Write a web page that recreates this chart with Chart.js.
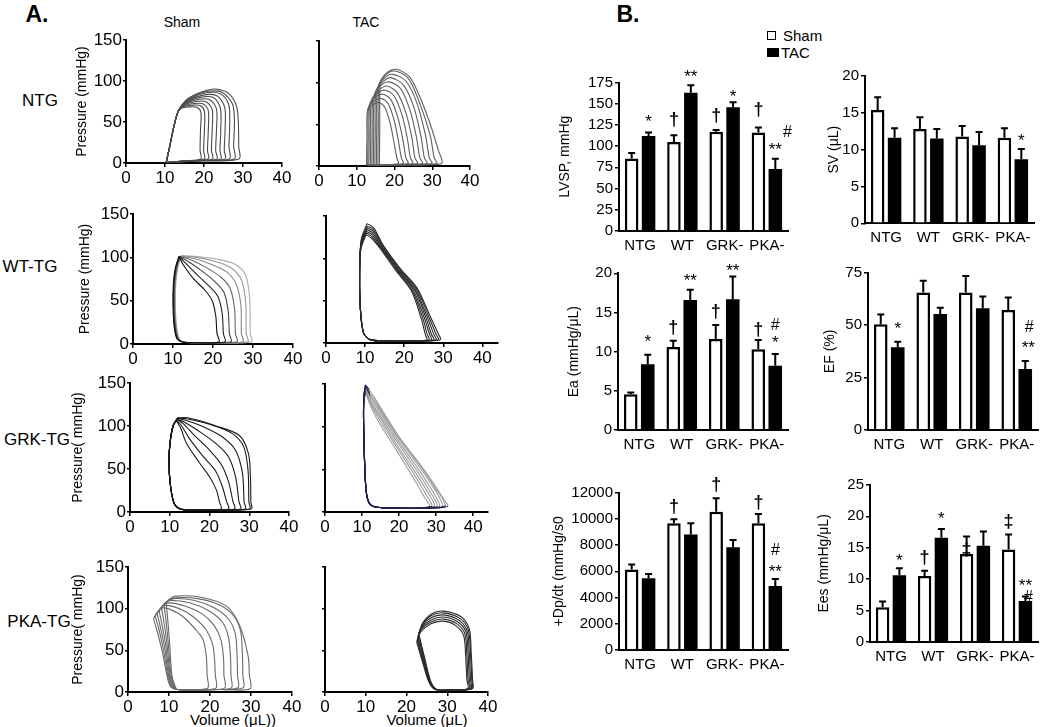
<!DOCTYPE html>
<html><head><meta charset="utf-8">
<script src="https://cdn.jsdelivr.net/npm/chart.js"></script>
<style>
html,body{margin:0;padding:0;background:#fff;}
body{width:1050px;height:727px;position:relative;overflow:hidden;font-family:"Liberation Sans",Arial,Helvetica,sans-serif;color:#000;}
canvas{position:absolute;}
.c{position:absolute;white-space:nowrap;line-height:1;transform:translate(-50%,-50%);}
.l{position:absolute;white-space:nowrap;line-height:1;transform:translate(0,-50%);}
</style></head><body>
<div class="c" style="left:37px;top:14px;font-size:23px;font-weight:bold">A.</div>
<div class="c" style="left:182px;top:22px;font-size:14px">Sham</div>
<div class="c" style="left:366px;top:22px;font-size:14px">TAC</div>
<div class="c" style="left:40px;top:100px;font-size:17px">NTG</div>
<div class="c" style="left:30px;top:266px;font-size:17px">WT-TG</div>
<div class="c" style="left:37px;top:439px;font-size:17px">GRK-TG</div>
<div class="c" style="left:39px;top:621px;font-size:17px">PKA-TG</div>
<div class="c" style="left:233px;top:719px;font-size:15px">Volume (μL))</div>
<div class="c" style="left:427px;top:719px;font-size:15px">Volume (μL)</div>
<div class="c" style="left:628px;top:14px;font-size:23px;font-weight:bold">B.</div>
<div style="position:absolute;left:767px;top:31px;width:7px;height:7px;border:1px solid #000;"></div>
<div class="l" style="left:783px;top:35px;font-size:15px">Sham</div>
<div style="position:absolute;left:767px;top:48px;width:12px;height:9px;background:#000;"></div>
<div class="l" style="left:781px;top:52px;font-size:15px">TAC</div>
<script>
// ---------- DATA ----------
const volumeTicks = [0, 10, 20, 30, 40];
const pressureTicks = [0, 50, 100, 150];

// Pressure-volume loops, "volume,pressure" pairs
const ntgShamLoops = [
 "10.3,0.5 11.2,20 12.3,45 13.4,63 14.5,67.5 16.5,68.5 18.2,68 19.2,62 19.1,40 19,15 19.2,5 14.8,2.7 10.3,0.5",
 "10.3,0.5 11.2,20 12.3,45 13.4,63 14.6,68.5 17,70.5 19,70 20.1,63 20.1,40 19.9,15 20.1,5 15.2,2.7 10.3,0.5",
 "10.3,0.5 11.2,20 12.3,45 13.4,63 14.7,69.5 17.5,72.5 19.8,72 21.1,64 21.1,40 20.9,15 21.1,5 15.7,2.8 10.3,0.5",
 "10.3,0.5 11.2,20 12.3,45 13.4,63 14.8,70.5 18,75 20.6,74.5 22.1,65 22.1,40 21.9,15 22.2,5 16.2,2.8 10.3,0.5",
 "10.3,0.5 11.2,20 12.3,45 13.4,63 14.9,71.5 18.5,77.5 21.5,77 23.2,66 23.2,40 23,15 23.3,5 16.8,2.8 10.3,0.5",
 "10.3,0.5 11.2,20 12.3,45 13.4,63 15,72.5 19,80 22.5,79.5 24.2,67 24.3,40 24.1,15 24.3,5 17.3,2.8 10.3,0.5",
 "10.3,0.5 11.2,20 12.3,45 13.4,63 15.1,73.5 19.5,82.5 23.3,82 25.3,68 25.4,40 25.2,15 25.4,5 17.8,2.8 10.3,0.5",
 "10.3,0.5 11.2,20 12.3,45 13.4,63 15.2,74.5 20,85 24.2,84.5 26.3,72 26.6,50 26.4,20 26.5,5 18.4,2.8 10.3,0.5",
 "10.3,0.5 11.2,20 12.3,45 13.4,63 15.3,75.5 18,83 21,87.5 24.5,86.5 27.3,72 27.8,50 27.6,20 27.8,5 19,2.8 10.3,0.5",
 "10.3,0.5 11.2,20 12.3,45 13.4,63 15.4,76.5 18,84 21,89 23.5,90 26.3,85 28.3,70 28.8,50 28.9,20 29,5 19.6,2.8 10.3,0.5"
];
const ntgTacLoops = [
 "12.6,1 12.7,35 12.9,68 14.5,74 16,76 17.5,70 18.8,52 19.8,30 20.6,10 21,3 17,1.5 12.6,1",
 "12.9,1 13,35 13.2,72 14.9,79 16.5,81 18.3,75 19.9,55 21,31 21.8,10 22.3,3 17.6,1.5 12.9,1",
 "13.2,1 13.3,35 13.5,75 15.3,84 17,86 19.1,79 20.9,58 22.2,32 23,10 23.6,3 18.4,1.5 13.2,1",
 "13.6,1 13.7,37 13.9,79 15.7,88 17.5,91 19.9,84 22,61 23.4,33 24.2,10 24.8,3 19.2,1.5 13.6,1",
 "14,1 14.1,38 14.3,82 16.1,92 18,96 20.7,88 23,64 24.6,34 25.4,10 26.1,3 20,1.5 14,1",
 "14.4,1 14.5,40 14.7,86 16.5,97 18.5,101 21.6,93 24.1,67 25.8,35 26.7,10 27.4,3 20.9,1.5 14.4,1",
 "14.8,1 14.9,42 15.1,90 16.9,101 19,106 22.4,97 25.1,71 27,36 27.9,10 28.6,3 21.7,1.5 14.8,1",
 "15.2,1 15.3,45 15.5,93 17.2,105 19.5,110 23,102 25.9,76 28.2,37 29.2,10 29.9,3 22.5,1.5 15.2,1",
 "15.6,1 15.7,47 15.9,97 17.6,109 20,114 23.5,106 26.3,80 29.4,38 30.5,10 31.2,3 23.4,1.5 15.6,1",
 "16,1 16.1,50 16.3,100 18,112 20.5,116 24,107 26.7,83 29.4,51 31.6,19 32.5,3 24.2,1.5 16,1"
];
const wtShamLoops = [
 "11.5,101 12.5,92 15,76 18,62 19.8,50 20.7,32 21,12 21.5,2.5 16,1.5 12.6,2 11,6 10.3,20 10,45 10.1,70 10.6,88 11.5,101",
 "11.5,101 13,94 16,80 19,67 21.2,55 22.3,35 22.6,12 23,2.5 17,1.5 12.7,2 11.1,6 10.4,20 10.1,45 10.2,70 10.7,88 11.5,101",
 "11.6,101 13.5,96 17,85 20.5,72 22.7,60 23.8,38 24.1,12 24.5,2.5 18,1.5 12.8,2 11.2,6 10.5,20 10.2,45 10.3,70 10.8,88 11.6,101",
 "11.7,101 14,98 18,89 22,77 24.3,64 25.4,40 25.6,12 26,2.5 19,1.5 12.9,2 11.3,6 10.6,20 10.3,45 10.4,70 10.9,88 11.7,101",
 "11.8,101 14.5,99.5 19,93 23.5,83 25.9,68 27,43 27.1,12 27.5,2.5 20,1.5 13,2 11.4,6 10.7,20 10.4,45 10.5,70 11,88 11.8,101",
 "12,101.5 15,100.5 20,96 24.5,88 27.2,73 28.2,46 28.3,12 28.7,2.5 21,1.5 13.1,2 11.5,6 10.8,20 10.5,45 10.6,70 11.1,88 12,101.5",
 "12,102 16,101 21,98 25.5,92 28.2,79 29.2,50 29.3,12 29.6,2.5 22,1.5 13.2,2 11.6,6 10.9,20 10.6,45 10.7,70 11.2,88 12,102"
];
const wtTacLoops = [
 "10.2,128 11.6,124 13.8,112 17.8,86 21.8,62 24.3,30 25.4,10 25.8,4 23,2.5 15,2.5 11.3,4 9.6,12 8.8,40 8.6,80 8.9,110 10.2,128",
 "10.3,130 11.7,126 13.95,112.5 18,86.3 22,62.5 24.7,30.2 25.9,10 26.4,4 23.5,2.5 15,2.5 11.3,4 9.6,12 8.8,40 8.6,80 8.9,112 10.3,130",
 "10.3,132 11.8,128 14.1,113 18.2,86.7 22.3,63 25.1,30.4 26.5,10 27,4 24,2.5 15,2.5 11.3,4 9.6,12 8.8,40 8.6,80 8.9,114 10.3,132",
 "10.4,134 11.9,130 14.25,113.5 18.4,87 22.6,63.5 25.5,30.6 27,10 27.6,4 24.5,2.5 15,2.5 11.3,4 9.6,12 8.8,40 8.6,80 8.9,116 10.4,134",
 "10.4,136 12,132 14.4,114 18.6,87.3 22.8,64 25.9,30.8 27.6,10 28.2,4 25,2.5 15,2.5 11.3,4 9.6,12 8.8,40 8.6,80 9,118 10.4,136",
 "10.5,138 12.1,134 14.55,114.5 18.8,87.7 23.1,64.5 26.3,31 28.2,10 28.8,4 25.5,2.5 15,2.5 11.3,4 9.6,12 8.8,40 8.6,80 9,120 10.5,138",
 "10.5,141 12.2,136 14.7,115 19,88 23.3,65 26.7,31 28.8,10 29.3,4 26,2.5 15,2.5 11.3,4 9.6,12 8.8,40 8.6,80 9,122 10.5,141"
];
const grkShamLoops = [
 "11.7,106 12.8,97 14.2,80 17.5,57 20,41 21.7,26 22.5,12 22.9,3.5 18,2.5 13,3 11.2,9 10.2,30 9.8,60 10.2,85 10.8,100 11.7,106",
 "11.7,107 13,100 15,85 18.5,64 21.5,48 23.2,30 24.3,12 24.8,3.5 19,2.5 13,3 11.2,9 10.2,30 9.8,60 10.2,85 10.8,100 11.7,107",
 "11.8,108 13.3,103 16,90 20,72 23,55 24.8,35 25.9,12 26.3,3.5 20,2.5 13,3 11.2,9 10.2,30 9.8,60 10.2,85 10.9,101 11.8,108",
 "11.8,108 13.5,105 17,95 21.5,80 24.8,64 26.6,40 27.4,12 27.8,3.5 21,2.5 13,3 11.2,9 10.2,30 9.8,60 10.2,85 10.9,101 11.8,108",
 "11.9,109 13.8,107 18,100 23,88 26.5,72 28.3,45 28.7,12 29,3.5 22,2.5 13,3 11.2,9 10.2,30 9.8,60 10.2,85 11,102 11.9,109",
 "12,109 14.2,108.5 20,102 25.5,92 28.6,76 29.7,48 29.9,12 30.1,3.5 22,2.5 13,3 11.2,9 10.2,30 9.8,60 10.2,85 11,102 12,109",
 "12,109.5 14.5,109.5 21.7,100 27.5,89 29.8,68 30.3,40 30.4,12 30.5,3.5 22,2.5 13,3 11.2,9 10.2,30 9.8,60 10.2,85 11,102 12,109.5"
];
const grkTacLoops = [
 "10.9,140 12.5,122 14.7,104 19.2,73 23.7,41 27.3,14 28.3,7 26.3,5 20,4.5 14,5.5 12,10 11.1,25 10.6,70 10.4,110 10.5,130 10.9,140",
 "10.9,141.5 12.5,125 14.6,109 19.4,75.5 24,44.5 27.8,16.5 28.9,7 26.9,5 20,4.5 14,5.5 12,10 11.1,25 10.6,70 10.4,110 10.5,131 10.9,141.5",
 "10.9,142.5 12.4,127 14.5,113 19.5,78 24.3,47 28.3,19 29.6,7 27.6,5 20,4.5 14,5.5 12,10 11.1,25 10.6,70 10.4,110 10.5,132 10.9,142.5",
 "10.9,144 12.3,130 14.3,117 19.7,80.5 24.6,49.5 28.7,21.5 30.3,7 28.3,5 20,4.5 14,5.5 12,10 11.1,25 10.6,70 10.4,110 10.5,133 10.9,144",
 "10.9,145 12.3,133 14.2,121 19.8,83 24.9,52 29.1,24 31,7 29,5 20,4.5 14,5.5 12,10 11.1,25 10.6,70 10.4,110 10.5,134 10.9,145",
 "10.9,146.5 12.2,136 14,125 19.9,85.5 25.2,54.5 29.6,26.5 31.8,7 29.8,5 20,4.5 14,5.5 12,10 11.1,25 10.6,70 10.4,110 10.5,135 10.9,146.5",
 "10.9,148 12.1,139 13.9,128 20,87 25.4,56 29.8,28 32.5,8 30.5,5 20,4.5 14,5.5 12,10 11.1,25 10.6,70 10.4,110 10.5,136 10.9,148",
 "10.9,149 12,143 13.8,131 20,88 25.5,57 30,29 32.5,12 33.2,7 31.2,5 20,4.5 14,5.5 12,10 11.1,25 10.6,70 10.4,110 10.5,137 10.9,149"
];
const pkaShamLoops = [
 "6.2,88 7.5,98 9,101 12,95 14.2,87 17,72 18.3,63 19.1,43 19.3,20 19.5,5 17,3 12,3 10.3,7 9.5,20 8.3,50 7,75 6.2,88",
 "6.6,91 8,101 9.5,104 13,99 16,90 19,75 20.6,58 21.1,40 21.3,20 21.5,5 18,3 12,3 10.5,7 9.7,20 8.6,52 7.4,78 6.6,91",
 "7.1,94 8.5,104 10,107 14,103 18,94 21,80 22.7,62 23.3,40 23.4,20 23.6,5 19,3 12,3 10.7,7 9.9,20 8.9,54 7.8,80 7.1,94",
 "7.6,97 9,107 10.5,110 15,107 19.5,98 23,84 24.5,66 25,42 25.1,20 25.2,5 20,3 12,3 10.9,7 10.1,20 9.2,56 8.2,83 7.6,97",
 "8.2,100 9.3,108 11,112 16,110 21,101 24.6,87 26.2,69 26.6,44 26.7,20 26.8,5 21,3 12,3 11.1,7 10.3,20 9.5,58 8.7,86 8.2,100",
 "8.8,103 9.6,109 11.5,113 17,112 22.5,104 26,90 27.5,72 27.9,45 28,20 28.1,5 22,3 12,3 11.3,7 10.5,20 9.8,60 9.2,89 8.8,103",
 "9.3,106 10,111 11.5,115 17.5,114 24,103 27.2,80 29.3,43 29.6,20 29.8,4 23,3 12,3 11.5,7 10.7,20 10.1,62 9.6,92 9.3,106"
];
const pkaTacLoops = [
 "22.5,60 23.5,72 26,82 29,85 32,80 34,68 34.5,45 34.8,15 35,4 30,2.5 27,3 25.5,12 24,35 22.5,60",
 "22.6,62 23.6,75 26,84 29,87.5 32.3,82 34.3,70 34.8,46 35.1,15 35.3,4 30.2,2.5 27.1,3 25.6,12 24.1,36 22.6,62",
 "22.7,64 23.7,77 26,86.5 29,90 32.6,84 34.6,72 35.1,47 35.4,15 35.5,4 30.4,2.5 27.2,3 25.7,12 24.2,37 22.7,64",
 "22.8,66 23.8,79 26,89 29,92.5 32.9,86 34.9,73 35.4,47 35.7,15 35.8,4 30.6,2.5 27.3,3 25.8,12 24.3,38 22.8,66",
 "22.9,68 23.9,81 26,91.5 29,95 33.2,88 35.2,74 35.7,46 36,15 36,4 30.8,2.5 27.4,3 25.9,12 24.4,39 22.9,68",
 "23,70 24,83 26.2,94 29,97 33.5,90 35.4,76 35.9,45 36.2,15 36.2,4 31,2.5 27.5,3 26,12 24.5,40 23,70"
];

// Bar charts: group means and SEM
const groups = ['NTG', 'WT', 'GRK-', 'PKA-'];
const lvspSham = [85.5, 105, 117, 116];
const lvspShamSem = [6.5, 8, 2, 6];
const lvspTac = [112, 163, 146, 73];
const lvspTacSem = [4, 9, 6, 12];
const svSham = [15.4, 12.8, 11.8, 11.6];
const svShamSem = [1.7, 1.6, 1.4, 1.3];
const svTac = [11.6, 11.5, 10.6, 8.7];
const svTacSem = [1.3, 1.3, 1.8, 1.4];
const eaSham = [4.55, 10.6, 11.6, 10.3];
const eaShamSem = [0.25, 0.8, 1.8, 1.2];
const eaTac = [8.4, 16.6, 16.7, 8.2];
const eaTacSem = [1.2, 1.3, 2.9, 1.5];
const efSham = [50.4, 65.6, 65.5, 57.2];
const efShamSem = [4.7, 5.6, 7.9, 6.0];
const efTac = [39.4, 55.3, 58, 29.1];
const efTacSem = [2.7, 3.0, 5.6, 3.8];
const dpdtSham = [6150, 9660, 10550, 9660];
const dpdtShamSem = [380, 310, 1020, 710];
const dpdtTac = [5470, 8820, 7830, 4880];
const dpdtTacSem = [330, 840, 560, 540];
const eesSham = [5.5, 10.5, 14.0, 14.7];
const eesShamSem = [0.9, 0.8, 2.8, 2.4];
const eesTac = [10.6, 16.6, 15.3, 6.5];
const eesTacSem = [1.1, 1.4, 2.3, 0.7];

// significance marks: [group, series(0 sham / 1 TAC), text, y value, x shift px]
const lvspMarks = [[0,1,'*',133],[1,0,'†',131],[1,1,'**',186],[2,0,'†',136],[2,1,'*',162],[3,0,'†',143],[3,1,'#',115.5,12],[3,1,'**',99]];
const svMarks = [[3,1,'*',11.7]];
const eaMarks = [[0,1,'*',11.7],[1,0,'†',13.0],[1,1,'**',19.4],[2,0,'†',15.1],[2,1,'**',20.7],[3,0,'†',12.8],[3,1,'#',13.3],[3,1,'*',11.5]];
const efMarks = [[0,1,'*',50],[3,1,'#',48.6,4],[3,1,'**',40.5,3]];
const dpdtMarks = [[1,0,'†',10900],[2,0,'†',12600],[3,0,'†',11200],[3,1,'#',7550],[3,1,'**',6250]];
const eesMarks = [[0,1,'*',13.5],[1,0,'†',13.35],[1,1,'*',20.2],[2,0,'‡',14.6],[3,0,'‡',19.1],[3,1,'**',9.4],[3,1,'#',7.1,3]];

// ---------- DRAWING ----------
Chart.defaults.font.family = '"Liberation Sans", Arial, Helvetica, sans-serif';
Chart.defaults.color = '#000';

function parseLoop(s){
  return s.trim().split(/\s+/).map(p => { const a = p.split(',').map(Number); return {x:a[0], y:a[1]}; });
}
function addCanvas(b){
  const c = document.createElement('canvas');
  c.width = b.w; c.height = b.h;
  c.style.left = b.x + 'px'; c.style.top = b.y + 'px';
  document.body.appendChild(c);
  return c;
}

function pvChart(o){
  const c = addCanvas(o.box);
  const yW = o.area.l - o.box.x, xH = o.box.y + o.box.h - o.area.b;
  const datasets = o.loops.map((s, i) => ({
    data: parseLoop(s), showLine: true, pointRadius: 0, pointHoverRadius: 0,
    borderColor: Array.isArray(o.color) ? o.color[i] : o.color,
    borderWidth: 1.1, tension: 0.3, fill: false,
    segment: o.segment || {}
  }));
  new Chart(c, {
    type: 'scatter',
    data: {datasets},
    options: {
      responsive: false, animation: false, devicePixelRatio: 1, events: [],
      layout: {padding: {left: 0, bottom: 0, top: o.area.t - o.box.y, right: o.box.x + o.box.w - o.area.r}},
      plugins: {legend: {display: false}, tooltip: {enabled: false}},
      scales: {
        x: {type: 'linear', min: 0, max: o.xmax,
          afterBuildTicks: s => { s.ticks = volumeTicks.map(v => ({value: v})); },
          ticks: {font: {size: 17}, color: '#000', padding: 1, maxRotation: 0, autoSkip: false},
          grid: {drawOnChartArea: false, tickLength: 4, color: '#000', lineWidth: 1.5},
          border: {color: '#000', width: 2},
          afterFit: s => { s.height = xH; }},
        y: {type: 'linear', min: 0, max: 150,
          afterBuildTicks: s => { s.ticks = pressureTicks.map(v => ({value: v})); },
          ticks: {font: {size: 17}, color: '#000', padding: 1, callback: o.ylabels ? (v => String(v)) : (() => '')},
          grid: {drawOnChartArea: false, tickLength: 3, color: '#000', lineWidth: 1.5},
          border: {color: '#000', width: 2},
          title: {display: !!o.ytitle, text: o.ytitle || '', font: {size: 14}, color: '#000', padding: 0},
          afterFit: s => { s.width = yW; }}
      }
    }
  });
}

function barChart(o){
  const c = addCanvas(o.box);
  const yW = o.area.l - o.box.x, xH = o.box.y + o.box.h - o.area.b;
  const errPlugin = {id: 'errbars', afterDatasetsDraw(chart){
    const ctx = chart.ctx, ys = chart.scales.y;
    chart.data.datasets.forEach((ds, di) => {
      chart.getDatasetMeta(di).data.forEach((el, i) => {
        const top = ys.getPixelForValue(ds.data[i] + ds.err[i]);
        ctx.save(); ctx.strokeStyle = '#000'; ctx.lineWidth = 2;
        ctx.beginPath();
        ctx.moveTo(el.x, el.y); ctx.lineTo(el.x, top);
        ctx.moveTo(el.x - 3.5, top); ctx.lineTo(el.x + 3.5, top);
        ctx.stroke(); ctx.restore();
      });
    });
  }};
  const markPlugin = {id: 'sigmarks', afterDatasetsDraw(chart){
    const ctx = chart.ctx, ys = chart.scales.y;
    o.marks.forEach(m => {
      const el = chart.getDatasetMeta(m[1]).data[m[0]];
      const t = m[2];
      const isStar = t.includes('*'), isHash = t.includes('#');
      const fs = isStar ? 17 : (isHash ? 16 : 18);
      let py = ys.getPixelForValue(m[3]);
      if (isStar) py += fs * 0.22;
      ctx.save();
      ctx.font = (isStar || isHash ? '' : 'bold ') + fs + 'px "Liberation Sans", Arial, sans-serif';
      ctx.fillStyle = '#000'; ctx.textAlign = 'center'; ctx.textBaseline = 'middle';
      ctx.fillText(t, el.x + (m[4] || 0), py);
      ctx.restore();
    });
  }};
  new Chart(c, {
    type: 'bar',
    data: {labels: groups, datasets: [
      {label: 'Sham', data: o.sham, err: o.shamSem, backgroundColor: '#fff', borderColor: '#000', borderWidth: 2.5},
      {label: 'TAC', data: o.tac, err: o.tacSem, backgroundColor: '#000', borderColor: '#000', borderWidth: 0}
    ]},
    options: {
      responsive: false, animation: false, devicePixelRatio: 1, events: [],
      datasets: {bar: {categoryPercentage: 0.8, barPercentage: 0.8}},
      layout: {padding: {left: 0, bottom: 0, top: o.area.t - o.box.y, right: o.box.x + o.box.w - o.area.r}},
      plugins: {legend: {display: false}, tooltip: {enabled: false}},
      scales: {
        x: {grid: {display: true, drawOnChartArea: false, drawTicks: false},
          border: {color: '#000', width: 2},
          ticks: {font: {size: 15}, color: '#000', padding: 6, maxRotation: 0, autoSkip: false},
          afterFit: s => { s.height = xH; }},
        y: {min: 0, max: o.ymax,
          ticks: {stepSize: o.step, font: {size: 15}, color: '#000', padding: 2, callback: v => String(v)},
          grid: {drawOnChartArea: false, tickLength: 4, color: '#000', lineWidth: 1.5},
          border: {color: '#000', width: 2},
          title: {display: true, text: o.ytitle, font: {size: 14}, color: '#000', padding: 0},
          afterFit: s => { s.width = yW; }}
      }
    },
    plugins: [errPlugin, markPlugin]
  });
}

// Panel A
pvChart({box:{x:74,y:20,w:225,h:175}, area:{l:126,t:40,r:282,b:163}, xmax:40, loops:ntgShamLoops, color:'#4a4a4a', ylabels:true, ytitle:'Pressure (mmHg)'});
pvChart({box:{x:300,y:20,w:185,h:175}, area:{l:319,t:41,r:470,b:166}, xmax:40, loops:ntgTacLoops, color:'#5e5e5e', ylabels:false});
pvChart({box:{x:77,y:195,w:228,h:180}, area:{l:133,t:214,r:293,b:344}, xmax:40, loops:wtShamLoops, color:['#111','#222','#444','#666','#888','#999','#aaa'], ylabels:true, ytitle:'Pressure (mmHg)'});
pvChart({box:{x:305,y:195,w:200,h:180}, area:{l:326,t:216,r:498,b:343}, xmax:44, loops:wtTacLoops, color:'#2a2a2a', ylabels:false});
pvChart({box:{x:70,y:370,w:230,h:170}, area:{l:130,t:383,r:289,b:512}, xmax:40, loops:grkShamLoops, color:'#1a1a1a', ylabels:true, ytitle:'Pressure( mmHg)'});
pvChart({box:{x:305,y:370,w:195,h:170}, area:{l:325,t:384,r:488,b:512}, xmax:44, loops:grkTacLoops, color:'#9c9c9c', ylabels:false,
  segment:{borderColor: ctx => { const a = ctx.p0.parsed, b = ctx.p1.parsed; return ((a.y <= 10 && b.y <= 10) || (a.x <= 12.2 && b.x <= 12.2)) ? '#22224e' : '#9c9c9c'; }}});
pvChart({box:{x:70,y:555,w:235,h:172}, area:{l:128,t:567,r:292,b:692}, xmax:40, loops:pkaShamLoops, color:'#6a6a6a', ylabels:true, ytitle:'Pressure( mmHg)'});
pvChart({box:{x:305,y:555,w:200,h:172}, area:{l:325,t:567,r:488,b:692}, xmax:40, loops:pkaTacLoops, color:'#2a2a2a', ylabels:false});

// Panel B
barChart({box:{x:557,y:58,w:245,h:200}, area:{l:619,t:82.7,r:788,b:230.7}, ymax:175, step:25, sham:lvspSham, shamSem:lvspShamSem, tac:lvspTac, tacSem:lvspTacSem, ytitle:'LVSP, mmHg', marks:lvspMarks});
barChart({box:{x:826,y:58,w:222,h:195}, area:{l:865,t:76,r:1034,b:223.3}, ymax:20, step:5, sham:svSham, shamSem:svShamSem, tac:svTac, tacSem:svTacSem, ytitle:'SV (μL)', marks:svMarks});
barChart({box:{x:566,y:255,w:236,h:200}, area:{l:618,t:273.3,r:788,b:430}, ymax:20, step:5, sham:eaSham, shamSem:eaShamSem, tac:eaTac, tacSem:eaTacSem, ytitle:'Ea (mmHg/μL)', marks:eaMarks});
barChart({box:{x:822,y:255,w:227,h:200}, area:{l:868,t:272.7,r:1038,b:430}, ymax:75, step:25, sham:efSham, shamSem:efShamSem, tac:efTac, tacSem:efTacSem, ytitle:'EF (%)', marks:efMarks});
barChart({box:{x:551,y:470,w:251,h:210}, area:{l:619,t:492.7,r:788,b:650}, ymax:12000, step:2000, sham:dpdtSham, shamSem:dpdtShamSem, tac:dpdtTac, tacSem:dpdtTacSem, ytitle:'+Dp/dt (mmHg/s0', marks:dpdtMarks});
barChart({box:{x:816,y:470,w:233,h:200}, area:{l:870,t:485,r:1038,b:641.7}, ymax:25, step:5, sham:eesSham, shamSem:eesShamSem, tac:eesTac, tacSem:eesTacSem, ytitle:'Ees (mmHg/μL)', marks:eesMarks});
</script>
</body></html>
